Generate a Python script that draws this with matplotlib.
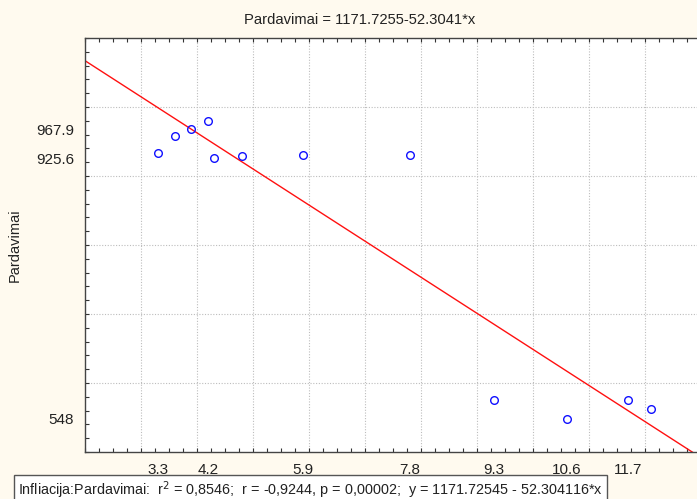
import numpy as np
import matplotlib
matplotlib.use("Agg")
import matplotlib.pyplot as plt
from matplotlib.ticker import MultipleLocator, FixedLocator

# Infliacija vs Pardavimai
infliacija = [3.3, 3.6, 3.9, 4.2, 4.3, 4.8, 5.9, 7.8, 9.3, 10.6, 11.7, 12.1]
pardavimai = [934, 958, 967.9, 979, 925.6, 929, 930, 931, 575, 548, 575, 562]

# regression coefficients
intercept = 1171.7255
slope = -52.3041

x_labels = [3.3, 4.2, 5.9, 7.8, 9.3, 10.6, 11.7]
y_labels = [548, 925.6, 967.9]

plt.rcParams["font.family"] = ["Liberation Sans", "DejaVu Sans"]
bg = "#FFFAEF"

fig = plt.figure(figsize=(6.97, 4.99), dpi=100, facecolor=bg)
ax = fig.add_axes([85 / 697, 47 / 499, 616 / 697, 414 / 499])
ax.set_facecolor("white")

ax.set_xlim(2, 13)
ax.set_ylim(500, 1100)

# dotted grid
for gx in np.arange(3, 13):
    ax.axvline(gx, color="#BDBDBD", ls=(0, (1, 1.5)), lw=0.8, zorder=0)
for gy in np.arange(600, 1100, 100):
    ax.axhline(gy, color="#BDBDBD", ls=(0, (1, 1.5)), lw=0.8, zorder=0)

# fitted line
xl = np.array([2, 13])
ax.plot(xl, intercept + slope * xl, color="#FF1010", lw=1.0, zorder=2)

ax.plot(infliacija, pardavimai, "o", mfc="none", mec="#1010FF",
        ms=5.5, mew=1.0, zorder=3)

ax.xaxis.set_major_locator(FixedLocator(x_labels))
ax.set_xticklabels([str(v) for v in x_labels])
ax.yaxis.set_major_locator(FixedLocator(y_labels))
ax.set_yticklabels([str(v) for v in y_labels])
ax.xaxis.set_minor_locator(MultipleLocator(0.25))
ax.yaxis.set_minor_locator(MultipleLocator(20))

ax.tick_params(which="major", length=0, labelsize=11, colors="#222222", pad=8)
ax.tick_params(which="minor", direction="in", length=3, width=0.8,
               top=True, bottom=True, left=True, right=False, color="#333333")

for side in ["left", "top", "bottom"]:
    ax.spines[side].set_color("#444444")
    ax.spines[side].set_linewidth(1.0)
ax.spines["right"].set_visible(False)

ax.set_ylabel("Pardavimai", fontsize=10.5, color="#222222")
ax.yaxis.set_label_coords(-63 / 616, 0.5)

fig.text(360 / 697, 1 - 20 / 499, "Pardavimai = 1171.7255-52.3041*x",
         ha="center", va="center", fontsize=10.6, color="#222222")

fig.text(18 / 697, 1 - 490 / 499,
         "Infliacija:Pardavimai:  r$^2$ = 0,8546;  r = -0,9244, p = 0,00002;  "
         "y = 1171.72545 - 52.304116*x",
         ha="left", va="center", fontsize=10.4, color="#222222",
         bbox=dict(boxstyle="square,pad=0.3", fc="white", ec="#555555", lw=1.0))

fig.savefig("out.png", dpi=100, facecolor=bg)
